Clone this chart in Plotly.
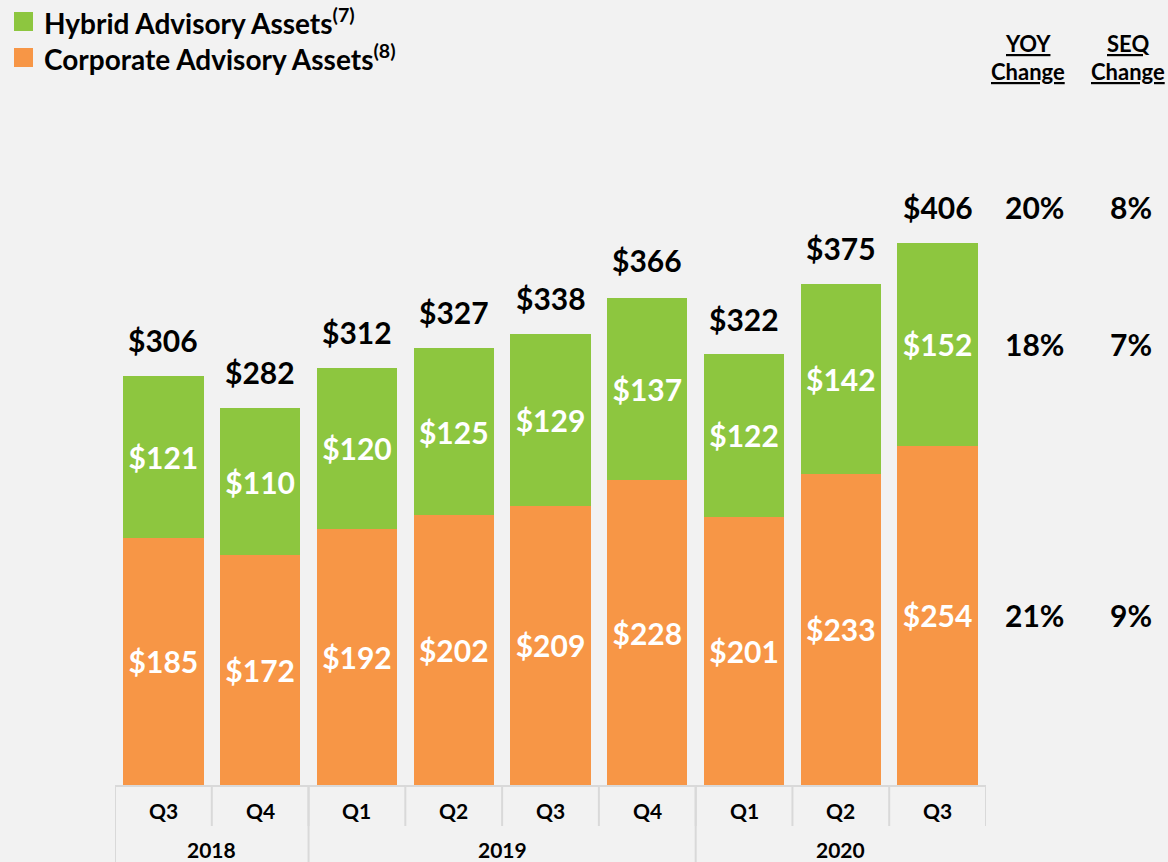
import plotly.graph_objects as go

# ---- data ----
years = ["2018", "2018", "2019", "2019", "2019", "2019", "2020", "2020", "2020"]
quarters = ["Q3", "Q4", "Q1", "Q2", "Q3", "Q4", "Q1", "Q2", "Q3"]
corporate = [185, 172, 192, 202, 209, 228, 201, 233, 254]
hybrid = [121, 110, 120, 125, 129, 137, 122, 142, 152]
totals = [306, 282, 312, 327, 338, 366, 322, 375, 406]
yoy_change = ["20%", "18%", "21%"]   # total, hybrid, corporate
seq_change = ["8%", "7%", "9%"]

# ---- style ----
GREEN = "#8DC63F"
ORANGE = "#F79646"
BG = "#F2F2F2"
GRID = "#D9D9D9"
FONT = "Lato"
BIG = 30

L, R, T, B = 115, 182, 184, 77
WIDTH, HEIGHT = 1168, 862
PW, PH = WIDTH - L - R, HEIGHT - T - B


def px_x(p):
    return (p - L) / PW


def px_y(p):
    return (HEIGHT - B - p) / PH


cats = [f"{q} {y}" for q, y in zip(quarters, years)]

fig = go.Figure()
fig.add_trace(go.Bar(
    x=cats, y=corporate, name="Corporate Advisory Assets",
    marker=dict(color=ORANGE, line=dict(width=0)),
    text=[f"${v}" for v in corporate], textposition="inside",
    insidetextanchor="middle", textangle=0,
    textfont=dict(family=FONT, size=BIG, color="white", weight="bold"),
    hoverinfo="skip",
))
fig.add_trace(go.Bar(
    x=cats, y=hybrid, name="Hybrid Advisory Assets",
    marker=dict(color=GREEN, line=dict(width=0)),
    text=[f"${v}" for v in hybrid], textposition="inside",
    insidetextanchor="middle", textangle=0,
    textfont=dict(family=FONT, size=BIG, color="white", weight="bold"),
    hoverinfo="skip",
))

annotations = []
# totals above bars
for c, t in zip(cats, totals):
    annotations.append(dict(
        x=c, y=t, xref="x", yref="y", text=f"${t}", showarrow=False,
        xanchor="center", yanchor="middle", yshift=36,
        font=dict(family=FONT, size=BIG, color="black", weight="bold")))

# quarter labels
for c, q in zip(cats, quarters):
    annotations.append(dict(
        x=c, y=px_y(810), xref="x", yref="paper", text=q, showarrow=False,
        xanchor="center", yanchor="middle",
        font=dict(family=FONT, size=21, color="black", weight="bold")))

# year groups
groups = []
for i, y in enumerate(years):
    if not groups or groups[-1][0] != y:
        groups.append([y, i, i])
    else:
        groups[-1][2] = i
for y, s, e in groups:
    annotations.append(dict(
        x=(s + e) / 2, y=px_y(850), xref="x", yref="paper", text=y, showarrow=False,
        xanchor="center", yanchor="middle",
        font=dict(family=FONT, size=21, color="black", weight="bold")))

# right side change columns
last = len(cats) - 1
row_vals = [totals[last], corporate[last] + hybrid[last] / 2, corporate[last] / 2]
row_shift = [36, 0, 0]
for yv, ys, a, b in zip(row_vals, row_shift, yoy_change, seq_change):
    annotations.append(dict(
        x=px_x(1034), y=yv, xref="paper", yref="y", text=a, showarrow=False,
        xanchor="center", yanchor="middle", yshift=ys,
        font=dict(family=FONT, size=BIG, color="black", weight="bold")))
    annotations.append(dict(
        x=px_x(1131), y=yv, xref="paper", yref="y", text=b, showarrow=False,
        xanchor="center", yanchor="middle", yshift=ys,
        font=dict(family=FONT, size=BIG, color="black", weight="bold")))

# headers
for xc, top in [(1028, "YOY"), (1128, "SEQ")]:
    annotations.append(dict(
        x=px_x(xc), y=px_y(43), xref="paper", yref="paper", text=f"<u>{top}</u>",
        showarrow=False, xanchor="center", yanchor="middle",
        font=dict(family=FONT, size=22, color="black", weight="bold")))
    annotations.append(dict(
        x=px_x(xc), y=px_y(72), xref="paper", yref="paper", text="<u>Change</u>",
        showarrow=False, xanchor="center", yanchor="middle",
        font=dict(family=FONT, size=22, color="black", weight="bold")))

# custom legend
legend_items = [("Hybrid Advisory Assets<sup>(7)</sup>", GREEN, 12, 21),
                ("Corporate Advisory Assets<sup>(8)</sup>", ORANGE, 48, 58)]
shapes = []
for label, col, sq_top, ty in legend_items:
    shapes.append(dict(type="rect", xref="paper", yref="paper",
                       x0=px_x(14), x1=px_x(33), y0=px_y(sq_top + 19), y1=px_y(sq_top),
                       fillcolor=col, line=dict(width=0)))
    annotations.append(dict(
        x=px_x(42), y=px_y(ty), xref="paper", yref="paper", text=label,
        showarrow=False, xanchor="left", yanchor="middle",
        font=dict(family=FONT, size=28, color="black", weight="bold")))

# table grid lines
n = len(cats)
for i in range(n + 1):
    shapes.append(dict(type="line", xref="x", yref="paper",
                       x0=i - 0.5, x1=i - 0.5, y0=0, y1=px_y(826),
                       line=dict(color=GRID, width=2)))
for y, s, e in groups:
    shapes.append(dict(type="line", xref="x", yref="paper",
                       x0=s - 0.5, x1=s - 0.5, y0=0, y1=px_y(862),
                       line=dict(color=GRID, width=2)))

fig.update_layout(
    barmode="stack",
    bargap=0.17,
    width=WIDTH, height=HEIGHT,
    margin=dict(l=L, r=R, t=T, b=B, pad=0),
    paper_bgcolor=BG, plot_bgcolor=BG,
    showlegend=False,
    hovermode=False,
    annotations=annotations,
    shapes=shapes,
    xaxis=dict(type="category", showticklabels=False, showgrid=False, zeroline=False,
               showline=True, linecolor=GRID, linewidth=2, ticks="",
               range=[-0.5, n - 0.5], fixedrange=True),
    yaxis=dict(range=[0, 450], visible=False, showgrid=False, zeroline=False,
               fixedrange=True),
    font=dict(family=FONT),
)

fig.write_html(
    "out.html",
    config={"displayModeBar": False},
    post_script="document.body.style.margin='0';document.body.style.padding='0';"
                "document.body.style.background='#F2F2F2';"
                "document.documentElement.style.overflow='hidden';",
)
